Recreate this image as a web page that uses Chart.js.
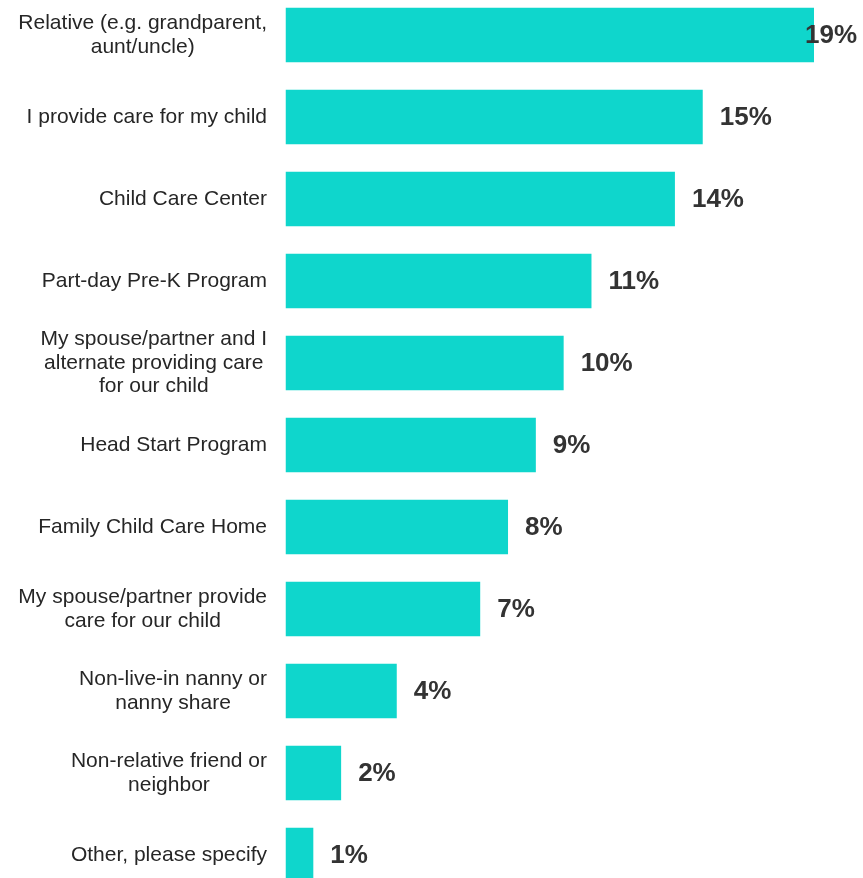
<!DOCTYPE html>
<html>
<head>
<meta charset="utf-8">
<script src="https://cdn.jsdelivr.net/npm/chart.js@4"></script>
<style>
  html, body { margin: 0; padding: 0; background: #fff; overflow: hidden; width: 863px; height: 878px; }
  #wrap { position: absolute; left: 0; top: -6px; width: 863px; height: 902px; }
</style>
</head>
<body>
<div id="wrap"><canvas id="c"></canvas></div>
<script>
const categories = [
  ["Relative (e.g. grandparent,", "aunt/uncle)"],
  ["I provide care for my child"],
  ["Child Care Center"],
  ["Part-day Pre-K Program"],
  ["My spouse/partner and I", "alternate providing care", "for our child"],
  ["Head Start Program"],
  ["Family Child Care Home"],
  ["My spouse/partner provide", "care for our child"],
  ["Non-live-in nanny or", "nanny share"],
  ["Non-relative friend or", "neighbor"],
  ["Other, please specify"]
];
const values = [19, 15, 14, 11, 10, 9, 8, 7, 4, 2, 1];
const valueLabels = values.map(v => v + "%");

const BAR_COLOR = "#0FD6CC";
const LABEL_FONT = "21px 'Liberation Sans', Arial, sans-serif";
const VALUE_FONT = "bold 26px 'Liberation Sans', Arial, sans-serif";
const LABEL_RIGHT = 267;
const LINE_H = 23.5;

const labelPlugin = {
  id: 'labels',
  afterDatasetsDraw(chart) {
    const ctx = chart.ctx;
    const y = chart.scales.y, x = chart.scales.x;
    ctx.save();
    // category labels: block right-aligned, lines centered
    ctx.font = LABEL_FONT;
    ctx.fillStyle = "#262626";
    ctx.textAlign = "center";
    ctx.textBaseline = "middle";
    categories.forEach((lines, i) => {
      const cy = y.getPixelForValue(i);
      const maxW = Math.max(...lines.map(l => ctx.measureText(l).width));
      const cx = LABEL_RIGHT - maxW / 2;
      const startY = cy - (lines.length - 1) * LINE_H / 2;
      lines.forEach((l, j) => ctx.fillText(l, cx, startY + j * LINE_H));
    });
    // value labels
    ctx.font = VALUE_FONT;
    ctx.fillStyle = "#333333";
    ctx.textAlign = "left";
    values.forEach((v, i) => {
      const txt = valueLabels[i];
      const w = ctx.measureText(txt).width;
      let px = x.getPixelForValue(v) + 17;
      px = Math.min(px, chart.width - 6 - w);
      ctx.fillText(txt, px, y.getPixelForValue(i) + 1);
    });
    ctx.restore();
  }
};

new Chart(document.getElementById('c'), {
  type: 'bar',
  data: {
    labels: categories,
    datasets: [{
      data: values,
      backgroundColor: BAR_COLOR,
      borderWidth: 0,
      barPercentage: 0.662,
      categoryPercentage: 1.0
    }]
  },
  options: {
    indexAxis: 'y',
    responsive: true,
    maintainAspectRatio: false,
    animation: false,
    layout: { padding: { left: 285.5, right: 49, top: 0, bottom: 0 } },
    plugins: { legend: { display: false }, tooltip: { enabled: false } },
    scales: {
      x: { display: false, min: 0, max: 19 },
      y: { display: false, offset: true }
    }
  },
  plugins: [labelPlugin]
});
</script>
</body>
</html>
